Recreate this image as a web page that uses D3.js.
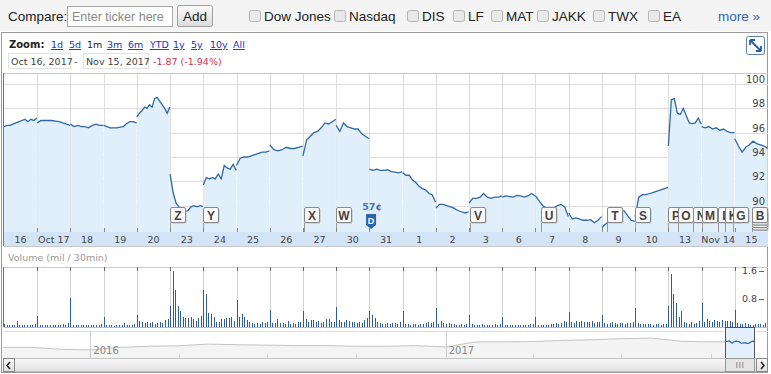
<!DOCTYPE html>
<html>
<head>
<meta charset="utf-8">
<script src="https://cdn.jsdelivr.net/npm/d3@7"></script>
<style>
body { margin: 0; background: #fff; }
svg { display: block; }
</style>
</head>
<body>
<svg id="chart" width="771" height="374"></svg>
<script>
// Header controls
const compareTickers = ["Dow Jones", "Nasdaq", "DIS", "LF", "MAT", "JAKK", "TWX", "EA"];
const zoomLinks = ["1d", "5d", "1m", "3m", "6m", "YTD", "1y", "5y", "10y", "All"];

// Trading days shown on the x axis
const days = ["16", "Oct 17", "18", "19", "20", "23", "24", "25", "26", "27", "30", "31",
              "1", "2", "3", "6", "7", "8", "9", "10", "13", "Nov 14", "15"];
const dayDates = ["2017-10-16", "2017-10-17", "2017-10-18", "2017-10-19", "2017-10-20", "2017-10-23",
                  "2017-10-24", "2017-10-25", "2017-10-26", "2017-10-27", "2017-10-30", "2017-10-31",
                  "2017-11-01", "2017-11-02", "2017-11-03", "2017-11-06", "2017-11-07", "2017-11-08",
                  "2017-11-09", "2017-11-10", "2017-11-13", "2017-11-14", "2017-11-15"];

// Intraday prices, one list per day
const prices = [
  [96.5, 96.6, 96.6, 96.7, 96.8, 96.9, 97.0, 97.1, 96.9, 97.1, 97.0, 97.2],
  [96.8, 97.0, 97.0, 97.0, 97.0, 96.95, 96.9, 96.8, 96.7, 96.6],
  [96.7, 96.5, 96.6, 96.5, 96.5, 96.4, 96.6, 96.7, 96.6, 96.6],
  [96.6, 96.5, 96.4, 96.4, 96.4, 96.45, 96.5, 96.75, 96.9, 96.9, 96.8],
  [97.3, 97.6, 97.8, 98.1, 98.0, 98.3, 98.1, 98.8, 98.9, 98.6, 98.3, 98.0, 97.6, 98.1],
  [92.6, 91.1, 90.2, 89.9, 89.6, 89.5, 89.6, 89.9, 90.0, 89.9, 90.0, 89.95],
  [91.7, 92.3, 92.2, 92.3, 92.2, 92.6, 92.2, 93.3, 93.1, 93.0, 93.4, 92.9],
  [93.3, 93.9, 94.0, 94.0, 94.1, 94.2, 94.3, 94.4, 94.4, 94.5],
  [95.0, 94.6, 94.5, 94.6, 94.8, 94.7, 94.7, 94.8, 94.9],
  [94.1, 95.4, 95.7, 96.0, 96.1, 96.4, 96.8, 96.7, 96.9, 97.1],
  [96.6, 96.1, 96.8, 96.5, 96.4, 96.3, 96.3, 95.9, 95.7, 95.5],
  [93.0, 92.9, 93.0, 92.9, 92.9, 92.95, 92.8, 92.75, 92.7, 92.8],
  [92.7, 92.5, 92.5, 92.1, 91.9, 91.6, 91.4, 91.3, 91.0, 90.9, 90.3],
  [89.8, 90.1, 90.1, 90.0, 89.9, 89.8, 89.6, 89.5, 89.4, 89.5],
  [90.2, 90.6, 90.6, 90.7, 91.0, 90.7, 90.6, 90.7, 90.7, 90.8],
  [90.7, 90.8, 90.75, 90.7, 90.85, 90.8, 90.7, 90.8, 91.0, 90.8],
  [90.8, 90.4, 90.0, 89.8, 89.7, 89.8, 90.0, 90.1, 89.9, 89.1],
  [89.4, 88.9, 89.0, 88.9, 88.8, 88.8, 88.85, 88.6, 88.8, 89.1],
  [88.2, 88.5, 88.7, 88.9, 89.1, 89.4, 89.6, 89.2, 88.8, 88.7],
  [89.1, 90.7, 90.9, 90.9, 91.0, 91.1, 91.2, 91.3, 91.4, 91.5],
  [94.9, 98.7, 98.8, 97.6, 97.5, 98.0, 97.4, 96.8, 96.75, 96.8, 97.2, 96.7],
  [96.5, 96.4, 96.5, 96.3, 96.4, 96.2, 96.3, 96.1, 96.0, 96.0],
  [95.5, 94.9, 94.4, 94.8, 95.0, 95.3, 95.1, 95.0, 94.9, 94.7]
];
const priceTicks = [88, 90, 92, 94, 96, 98, 100];

// Volume in millions per 30 minutes, 13 bars per day
const volumes = [
  [0.08, 0.06, 0.05, 0.06, 0.07, 0.16, 0.05, 0.05, 0.06, 0.05, 0.06, 0.07, 0.09],
  [0.32, 0.06, 0.05, 0.06, 0.05, 0.05, 0.06, 0.05, 0.07, 0.06, 0.08, 0.06, 0.12],
  [0.82, 0.06, 0.05, 0.05, 0.06, 0.05, 0.05, 0.06, 0.06, 0.05, 0.06, 0.07, 0.09],
  [0.30, 0.06, 0.05, 0.05, 0.04, 0.05, 0.05, 0.06, 0.12, 0.05, 0.06, 0.07, 0.10],
  [0.33, 0.17, 0.14, 0.12, 0.14, 0.12, 0.13, 0.10, 0.12, 0.14, 0.12, 0.20, 0.22],
  [0.60, 1.60, 1.05, 0.60, 0.45, 0.28, 0.25, 0.27, 0.30, 0.22, 0.18, 0.25, 0.32],
  [1.05, 0.93, 0.40, 0.38, 0.28, 0.13, 0.13, 0.24, 0.24, 0.25, 0.26, 0.30, 0.16],
  [0.77, 0.30, 0.38, 0.30, 0.20, 0.13, 0.12, 0.10, 0.12, 0.10, 0.15, 0.12, 0.14],
  [0.50, 0.12, 0.12, 0.22, 0.12, 0.12, 0.10, 0.18, 0.10, 0.12, 0.10, 0.15, 0.13],
  [0.45, 0.22, 0.15, 0.20, 0.20, 0.15, 0.18, 0.12, 0.15, 0.22, 0.24, 0.13, 0.15],
  [0.57, 0.20, 0.15, 0.13, 0.20, 0.16, 0.14, 0.13, 0.12, 0.13, 0.12, 0.20, 0.25],
  [0.45, 0.35, 0.25, 0.15, 0.12, 0.10, 0.10, 0.12, 0.10, 0.11, 0.12, 0.10, 0.15],
  [0.45, 0.10, 0.08, 0.07, 0.08, 0.08, 0.07, 0.09, 0.10, 0.12, 0.13, 0.12, 0.14],
  [0.55, 0.10, 0.18, 0.12, 0.10, 0.12, 0.09, 0.08, 0.07, 0.07, 0.08, 0.06, 0.08],
  [0.33, 0.08, 0.07, 0.06, 0.07, 0.08, 0.06, 0.07, 0.07, 0.06, 0.08, 0.07, 0.09],
  [0.30, 0.06, 0.05, 0.05, 0.06, 0.05, 0.06, 0.05, 0.05, 0.06, 0.07, 0.08, 0.09],
  [0.30, 0.07, 0.06, 0.05, 0.06, 0.07, 0.09, 0.08, 0.12, 0.10, 0.12, 0.16, 0.14],
  [0.43, 0.15, 0.12, 0.16, 0.14, 0.16, 0.13, 0.15, 0.14, 0.16, 0.12, 0.15, 0.14],
  [0.33, 0.12, 0.10, 0.12, 0.13, 0.12, 0.10, 0.11, 0.12, 0.10, 0.11, 0.12, 0.14],
  [0.53, 0.12, 0.10, 0.08, 0.09, 0.10, 0.08, 0.07, 0.08, 0.08, 0.07, 0.08, 0.10],
  [0.60, 1.52, 0.93, 0.70, 0.30, 0.45, 0.15, 0.12, 0.10, 0.15, 0.10, 0.12, 0.18],
  [0.70, 0.15, 0.22, 0.18, 0.15, 0.20, 0.18, 0.15, 0.20, 0.18, 0.16, 0.18, 0.15],
  [0.48, 0.12, 0.10, 0.10, 0.12, 0.08, 0.07, 0.06, 0.10, 0.08, 0.10, 0.06, 0.12]
];
const volTicks = [0.8, 1.6];

// News flags (letter, position in trading days) and the dividend marker
const flags = [
  {k: "Z", t: 5.0}, {k: "Y", t: 6.0}, {k: "X", t: 9.02}, {k: "W", t: 10.0},
  {k: "V", t: 14.04}, {k: "U", t: 16.17}, {k: "T", t: 18.15}, {k: "S", t: 19.0},
  {k: "P", t: 20.0}, {k: "O", t: 20.3}, {k: "N", t: 20.75}, {k: "M", t: 21.0},
  {k: "L", t: 21.5}, {k: "K", t: 21.72}, {k: "G", t: 21.96},
  {k: "E", t: 22.53}, {k: "D", t: 22.53}, {k: "C", t: 22.53}, {k: "B", t: 22.53}
];
const dividend = {label: "57¢", t: 11.05};

// Navigator history (monthly)
const navDates = ["2015-10-03", "2015-11-01", "2015-12-01", "2016-01-01", "2016-02-01", "2016-03-01",
                  "2016-04-01", "2016-05-01", "2016-06-01", "2016-07-01", "2016-08-01", "2016-09-01",
                  "2016-10-01", "2016-11-01", "2016-12-01", "2017-01-01", "2017-02-01", "2017-03-01",
                  "2017-04-01", "2017-05-01", "2017-06-01", "2017-07-01", "2017-08-01", "2017-09-01",
                  "2017-10-01", "2017-10-16"];
const navValues = [74.8, 74.8, 68.0, 65.4, 74.8, 78.7, 80.3, 86.5, 84.2, 82.6, 81.0, 81.0,
                   78.7, 78.7, 81.0, 76.4, 94.3, 94.3, 95.5, 99.8, 102.0, 106.0, 108.0, 96.6,
                   94.3, 95.0];
const navYears = ["2016", "2017"];

const parse = d3.timeParse("%Y-%m-%d");
const svg = d3.select("#chart");
const sans = "'Liberation Sans', Arial, sans-serif";
const verd = "'DejaVu Sans', Verdana, sans-serif";

// ---------- header bar ----------
svg.append("rect").attr("x", 0).attr("y", 0).attr("width", 771).attr("height", 31).attr("fill", "#f4f4f4");
svg.append("text").attr("x", 8).attr("y", 21).attr("font-family", sans).attr("font-size", 13.5)
  .attr("fill", "#222").text("Compare:");
svg.append("rect").attr("x", 67.5).attr("y", 6.5).attr("width", 105).attr("height", 20)
  .attr("fill", "#fff").attr("stroke", "#a8a8a8");
svg.append("text").attr("x", 72).attr("y", 21).attr("font-family", sans).attr("font-size", 12.5)
  .attr("fill", "#8a8a8a").text("Enter ticker here");

const grad = svg.append("defs").append("linearGradient").attr("id", "btn").attr("x1", 0).attr("x2", 0).attr("y1", 0).attr("y2", 1);
grad.append("stop").attr("offset", "0%").attr("stop-color", "#fafafa");
grad.append("stop").attr("offset", "100%").attr("stop-color", "#dcdcdc");
svg.append("rect").attr("x", 177.5).attr("y", 5.5).attr("width", 35).attr("height", 21).attr("rx", 2)
  .attr("fill", "url(#btn)").attr("stroke", "#a0a0a0");
svg.append("text").attr("x", 195).attr("y", 21).attr("text-anchor", "middle").attr("font-family", sans)
  .attr("font-size", 13.5).attr("fill", "#222").text("Add");

const cbX = [249, 334, 407, 453, 491, 537, 593, 648];
const cb = svg.append("g").selectAll("g").data(compareTickers).join("g")
  .attr("transform", (d, i) => `translate(${cbX[i]},0)`);
cb.append("rect").attr("x", 0.5).attr("y", 10.5).attr("width", 11).attr("height", 11).attr("rx", 2)
  .attr("fill", "#e9e9e9").attr("stroke", "#b4b4b4");
cb.append("text").attr("x", 15).attr("y", 21).attr("font-family", sans).attr("font-size", 13.5)
  .attr("fill", "#222").text(d => d);
svg.append("text").attr("x", 760).attr("y", 21).attr("text-anchor", "end").attr("font-family", sans)
  .attr("font-size", 13.5).attr("fill", "#3366bb").text("more »");

// ---------- chart frame ----------
svg.append("rect").attr("x", 1.5).attr("y", 32.5).attr("width", 766).attr("height", 340)
  .attr("fill", "#fff").attr("stroke", "#9a9a9a");

// zoom links
const zx = [51, 69, 87, 107, 128, 150, 173, 191, 210, 233];
svg.append("text").attr("x", 9).attr("y", 48).attr("font-family", verd).attr("font-size", 10)
  .attr("font-weight", "bold").attr("fill", "#222").text("Zoom:");
svg.append("g").selectAll("text").data(zoomLinks).join("text")
  .attr("x", (d, i) => zx[i]).attr("y", 48).attr("font-family", verd).attr("font-size", 9.5)
  .attr("fill", d => d === "1m" ? "#222" : "#2233bb")
  .attr("text-decoration", d => d === "1m" ? null : "underline").text(d => d);

// date range
[[8, 62, "Oct 16, 2017"], [83, 65, "Nov 15, 2017"]].forEach(([bx, bw, s]) => {
  svg.append("rect").attr("x", bx + 0.5).attr("y", 53.5).attr("width", bw).attr("height", 15)
    .attr("fill", "#fff").attr("stroke", "#e2e2e2");
  svg.append("text").attr("x", bx + 3).attr("y", 65).attr("font-family", verd).attr("font-size", 9.5)
    .attr("fill", "#444").text(s);
});
svg.append("text").attr("x", 74).attr("y", 65).attr("font-family", verd).attr("font-size", 9.5)
  .attr("fill", "#444").text("-");
svg.append("text").attr("x", 153).attr("y", 65).attr("font-family", verd).attr("font-size", 9.5)
  .attr("fill", "#cc3355").text("-1.87 (-1.94%)");

// expand icon
svg.append("rect").attr("x", 746.5).attr("y", 36.5).attr("width", 18).attr("height", 18).attr("rx", 2)
  .attr("fill", "#fff").attr("stroke", "#5a7fb8");
svg.append("path").attr("d", "M750,40 L761,51 M750,40 L750,45 M750,40 L755,40 M761,51 L761,46 M761,51 L756,51")
  .attr("stroke", "#2a5aa8").attr("stroke-width", 1.8).attr("fill", "none");

// ---------- price panel ----------
const x = d3.scaleLinear().domain([0, days.length]).range([4, 768]);
const y = d3.scaleLinear().domain([88, 100]).range([230, 84]);
const plotTop = 73, plotBot = 232;

const defs = svg.append("defs");
defs.append("clipPath").attr("id", "clip").append("rect")
  .attr("x", 4).attr("y", plotTop).attr("width", 764).attr("height", plotBot - plotTop);

const grid = svg.append("g").attr("stroke", "#dcdcdc").attr("shape-rendering", "crispEdges");
grid.selectAll(".h").data(priceTicks).join("line").attr("class", "h")
  .attr("x1", 4).attr("x2", 768).attr("y1", d => Math.round(y(d)) + 0.5).attr("y2", d => Math.round(y(d)) + 0.5);
grid.selectAll(".v").data(d3.range(1, days.length)).join("line").attr("class", "v")
  .attr("x1", d => Math.round(x(d)) + 0.5).attr("x2", d => Math.round(x(d)) + 0.5)
  .attr("y1", plotTop).attr("y2", plotBot);

svg.append("line").attr("x1", 4).attr("x2", 768).attr("y1", plotTop + 0.5).attr("y2", plotTop + 0.5).attr("stroke", "#c8c8c8");
svg.append("line").attr("x1", 3.5).attr("x2", 3.5).attr("y1", plotTop).attr("y2", 246).attr("stroke", "#777");

const series = prices.map((arr, d) => arr.map((v, j) => ({t: d + j / (arr.length - 1) * 0.99, v})));
const area = d3.area().x(p => x(p.t)).y0(plotBot).y1(p => y(p.v));
const line = d3.line().x(p => x(p.t)).y(p => y(p.v));
const pg = svg.append("g").attr("clip-path", "url(#clip)");
pg.selectAll(".a").data(series).join("path").attr("class", "a").attr("d", area)
  .attr("fill", "#e1effb");
pg.selectAll(".l").data(series).join("path").attr("class", "l").attr("d", line)
  .attr("fill", "none").attr("stroke", "#2f68a8").attr("stroke-width", 1.3);

// price labels on the right
svg.append("g").selectAll("text").data(priceTicks).join("text")
  .attr("x", 765).attr("y", d => y(d) - 1).attr("text-anchor", "end")
  .attr("font-family", verd).attr("font-size", 10).attr("fill", "#444").text(d => d);

// flags: later flags sit on top; stacked flags at one time only show the top letter,
// a flag partly covered by the next one shows only its uncovered part
const fg = svg.append("g");
flags.forEach((f, i) => {
  const same = flags.filter(g => g.t === f.t);
  const stackIdx = same.indexOf(f);
  const topOfStack = stackIdx === same.length - 1;
  const fx = Math.round(x(f.t)) + 0.5;
  const fy = 207.5 + (same.length - 1 - stackIdx) * 2.5;
  const next = flags.slice(i + 1).find(g => g.t !== f.t);
  const visW = next ? Math.min(15, Math.round(x(next.t)) - Math.round(x(f.t))) : 15;
  const g = fg.append("g");
  g.append("line").attr("x1", fx).attr("x2", fx).attr("y1", fy + 15).attr("y2", plotBot).attr("stroke", "#999");
  g.append("rect").attr("x", fx + 1).attr("y", fy + 1).attr("width", 15).attr("height", 15).attr("rx", 1.5)
    .attr("fill", "#bbb");
  g.append("rect").attr("x", fx).attr("y", fy).attr("width", 15).attr("height", 15).attr("rx", 1.5)
    .attr("fill", "#fafafa").attr("stroke", "#888");
  if (!topOfStack) return;
  const cid = "fc" + i;
  defs.append("clipPath").attr("id", cid).append("rect")
    .attr("x", fx).attr("y", fy).attr("width", visW).attr("height", 15);
  g.append("text").attr("x", fx + 7.5).attr("y", fy + 12).attr("text-anchor", "middle")
    .attr("clip-path", `url(#${cid})`)
    .attr("font-family", sans).attr("font-size", 12).attr("font-weight", "bold").attr("fill", "#444").text(f.k);
});

// dividend
const dx = x(dividend.t);
svg.append("text").attr("x", dx + 1).attr("y", 210).attr("text-anchor", "middle").attr("font-family", verd)
  .attr("font-size", 9.5).attr("font-weight", "bold").attr("fill", "#3a78c0").text(dividend.label);
svg.append("path").attr("d", `M${dx - 5},214 h10 v11 l-5,4 l-5,-4 z`).attr("fill", "#2a66b0");
svg.append("text").attr("x", dx).attr("y", 224).attr("text-anchor", "middle").attr("font-family", sans)
  .attr("font-size", 9).attr("font-weight", "bold").attr("fill", "#fff").text("D");

// x axis band
svg.append("rect").attr("x", 4).attr("y", plotBot).attr("width", 764).attr("height", 14).attr("fill", "#d3e4f6");
svg.append("g").selectAll("line").data(d3.range(1, days.length)).join("line")
  .attr("x1", d => Math.round(x(d)) + 0.5).attr("x2", d => Math.round(x(d)) + 0.5)
  .attr("y1", plotBot - 4).attr("y2", plotBot).attr("stroke", "#888");
svg.append("g").selectAll("text").data(days).join("text")
  .attr("x", (d, i) => x(i + 0.5)).attr("y", 243).attr("text-anchor", "middle")
  .attr("font-family", verd).attr("font-size", 9.5).attr("fill", "#444").text(d => d);
svg.append("line").attr("x1", 4).attr("x2", 768).attr("y1", 246.5).attr("y2", 246.5).attr("stroke", "#c8c8c8");

// ---------- volume panel ----------
svg.append("text").attr("x", 8).attr("y", 261).attr("font-family", verd).attr("font-size", 9.5)
  .attr("fill", "#999").text("Volume (mil / 30min)");
const vTop = 267, vBot = 327;
const yVol = d3.scaleLinear().domain([0, 1.6]).range([vBot, 271]);
svg.append("line").attr("x1", 4).attr("x2", 768).attr("y1", vTop + 0.5).attr("y2", vTop + 0.5).attr("stroke", "#ccc");
svg.append("line").attr("x1", 3.5).attr("x2", 3.5).attr("y1", vTop).attr("y2", vBot).attr("stroke", "#777");
const vg = svg.append("g").attr("shape-rendering", "crispEdges");
vg.selectAll(".v").data(d3.range(1, days.length)).join("line").attr("class", "v")
  .attr("x1", d => Math.round(x(d)) + 0.5).attr("x2", d => Math.round(x(d)) + 0.5)
  .attr("y1", vTop).attr("y2", vBot).attr("stroke", "#d2d2d2");
vg.selectAll(".tk").data(d3.range(1, days.length)).join("line").attr("class", "tk")
  .attr("x1", d => Math.round(x(d)) + 0.5).attr("x2", d => Math.round(x(d)) + 0.5)
  .attr("y1", vTop).attr("y2", vTop + 4).attr("stroke", "#666");
const bars = [];
volumes.forEach((arr, d) => arr.forEach((v, i) => bars.push({t: d + i / arr.length, v})));
vg.selectAll(".b").data(bars).join("line").attr("class", "b")
  .attr("x1", b => Math.round(x(b.t)) + 0.5).attr("x2", b => Math.round(x(b.t)) + 0.5)
  .attr("y1", vBot).attr("y2", b => yVol(b.v)).attr("stroke", "#2a5c9e");
svg.append("line").attr("x1", 4).attr("x2", 768).attr("y1", vBot + 0.5).attr("y2", vBot + 0.5).attr("stroke", "#bbb");
svg.append("g").selectAll("text").data(volTicks).join("text")
  .attr("x", 757).attr("y", d => yVol(d) + 3).attr("text-anchor", "end")
  .attr("font-family", verd).attr("font-size", 9.5).attr("fill", "#444").text(d => d);
svg.append("g").selectAll("line").data(volTicks).join("line")
  .attr("x1", 759).attr("x2", 764).attr("y1", d => Math.round(yVol(d)) + 0.5).attr("y2", d => Math.round(yVol(d)) + 0.5)
  .attr("stroke", "#666");

// ---------- navigator ----------
const nTop = 331, nBot = 358;
const xNav = d3.scaleTime().domain([parse("2015-10-03"), parse("2017-11-29")]).range([3, 768]);
const yNav = d3.scaleLinear().domain([40, 130]).range([357, 332]);
const navPts = navDates.map((d, i) => ({date: parse(d), v: navValues[i]}));
svg.append("line").attr("x1", 3).attr("x2", 768).attr("y1", nTop + 0.5).attr("y2", nTop + 0.5).attr("stroke", "#ddd");
svg.append("path").datum(navPts)
  .attr("d", d3.area().x(p => xNav(p.date)).y0(nBot).y1(p => yNav(p.v)))
  .attr("fill", "#f4f4f4");
svg.append("path").datum(navPts)
  .attr("d", d3.line().x(p => xNav(p.date)).y(p => yNav(p.v)))
  .attr("fill", "none").attr("stroke", "#c4c4c4").attr("stroke-width", 1);
svg.append("g").selectAll("line").data(xNav.ticks(d3.timeMonth.every(3)))
  .join("line").attr("x1", d => Math.round(xNav(d)) + 0.5).attr("x2", d => Math.round(xNav(d)) + 0.5)
  .attr("y1", d => d.getMonth() === 0 ? nTop : nBot - 4).attr("y2", nBot).attr("stroke", "#ccc");
svg.append("g").selectAll("text").data(navYears).join("text")
  .attr("x", d => xNav(parse(d + "-01-01")) + 3).attr("y", 354)
  .attr("font-family", verd).attr("font-size", 10).attr("fill", "#888").text(d => d);

// selected window
const w0 = xNav(parse(dayDates[0])), w1 = xNav(parse(dayDates[dayDates.length - 1]));
svg.append("rect").attr("x", Math.round(w0) + 0.5).attr("y", vBot + 0.5)
  .attr("width", Math.round(w1 - w0)).attr("height", nBot - vBot)
  .attr("fill", "#e3effa").attr("stroke", "#555");
const closes = prices.map((arr, d) => ({date: parse(dayDates[d]), v: arr[arr.length - 1]}));
svg.append("path").datum(closes)
  .attr("d", d3.line().x(p => xNav(p.date)).y(p => yNav(p.v)))
  .attr("fill", "none").attr("stroke", "#2f68a8").attr("stroke-width", 1.2);

// scrollbar
const sg = defs.append("linearGradient").attr("id", "scr").attr("x1", 0).attr("x2", 0).attr("y1", 0).attr("y2", 1);
sg.append("stop").attr("offset", "0%").attr("stop-color", "#f7f7f7");
sg.append("stop").attr("offset", "100%").attr("stop-color", "#e2e2e2");
svg.append("rect").attr("x", 3.5).attr("y", nBot + 0.5).attr("width", 764).attr("height", 13)
  .attr("fill", "url(#scr)").attr("stroke", "#c4c4c4");
svg.append("rect").attr("x", Math.round(w0) + 0.5).attr("y", nBot + 0.5).attr("width", Math.round(w1 - w0))
  .attr("height", 13).attr("fill", "#e4e4e4").attr("stroke", "#9a9a9a");
svg.append("path").attr("d", `M${(w0 + w1) / 2 - 3},${nBot + 4} v6 M${(w0 + w1) / 2},${nBot + 4} v6 M${(w0 + w1) / 2 + 3},${nBot + 4} v6`)
  .attr("stroke", "#888");
[[3.5, "M10,362 l-3,3.5 l3,3.5"], [756.5, "M761,362 l3,3.5 l-3,3.5"]].forEach(([bx, p]) => {
  svg.append("rect").attr("x", bx).attr("y", nBot + 0.5).attr("width", 11).attr("height", 13)
    .attr("fill", "url(#scr)").attr("stroke", "#888");
  svg.append("path").attr("d", p).attr("fill", "none").attr("stroke", "#222").attr("stroke-width", 1.5);
});
</script>
</body>
</html>
